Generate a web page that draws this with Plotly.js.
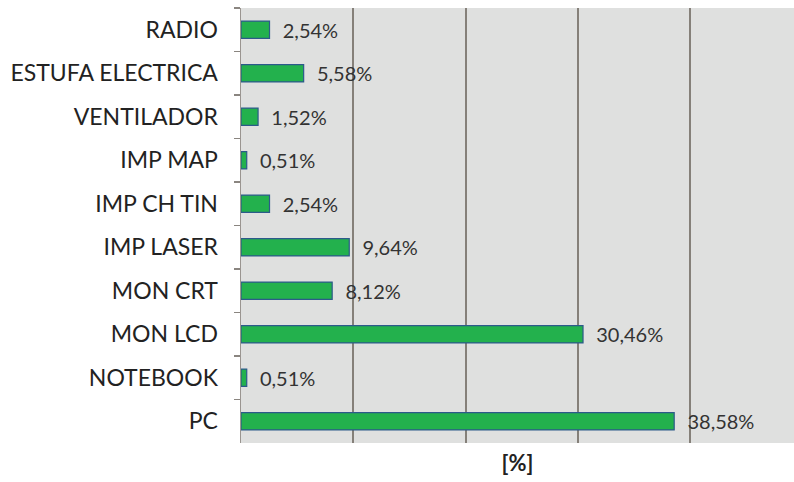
<!DOCTYPE html>
<html>
<head>
<meta charset="utf-8">
<script src="https://cdn.plot.ly/plotly-3.0.1.min.js"></script>
<style>html,body{margin:0;padding:0;background:#fff;}#chart{width:794px;height:482px;}</style>
</head>
<body>
<div id="chart"></div>
<script>
const categories = ["RADIO", "ESTUFA ELECTRICA", "VENTILADOR", "IMP MAP", "IMP CH TIN", "IMP LASER", "MON CRT", "MON LCD", "NOTEBOOK", "PC"];
const values = [2.54, 5.58, 1.52, 0.51, 2.54, 9.64, 8.12, 30.46, 0.51, 38.58];
const labels = values.map(v => "\u00a0\u00a0" + v.toFixed(2).replace(".", ",") + "%");

const trace = {
  type: "bar",
  orientation: "h",
  y: categories,
  x: values,
  text: labels,
  textposition: "outside",
  constraintext: "none",
  cliponaxis: false,
  textfont: {family: "Lato, 'Open Sans', sans-serif", size: 20, color: "#333333"},
  marker: {color: "#23b14d", line: {color: "#2c5a8a", width: 1.2}},
  width: 0.4,
  hoverinfo: "none"
};

const layout = {
  width: 794,
  height: 482,
  margin: {l: 241, r: 0, t: 8, b: 39},
  paper_bgcolor: "#ffffff",
  plot_bgcolor: "#dfe0df",
  showlegend: false,
  font: {family: "Lato, 'Open Sans', sans-serif", color: "#222222"},
  xaxis: {
    range: [0, 49.25],
    dtick: 10,
    tick0: 0,
    showticklabels: false,
    showgrid: true,
    gridcolor: "#858079",
    gridwidth: 2,
    zeroline: false,
    showline: false,
    ticks: "",
    title: {text: "[%]", font: {size: 22, color: "#222222", family: "Lato, 'Open Sans', sans-serif", weight: "bold"}, standoff: 12}
  },
  yaxis: {
    autorange: "reversed",
    type: "category",
    tickson: "boundaries",
    ticks: "outside",
    ticklen: 6,
    tickcolor: "#8a8580",
    tickwidth: 1.5,
    showline: true,
    linecolor: "#9a9590",
    linewidth: 1.5,
    showgrid: false,
    ticklabelstandoff: 17,
    tickfont: {size: 23, color: "#222222", family: "Lato, 'Open Sans', sans-serif"}
  },
  bargap: 0.6
};

Plotly.newPlot("chart", [trace], layout, {displayModeBar: false, staticPlot: true});
</script>
</body>
</html>
